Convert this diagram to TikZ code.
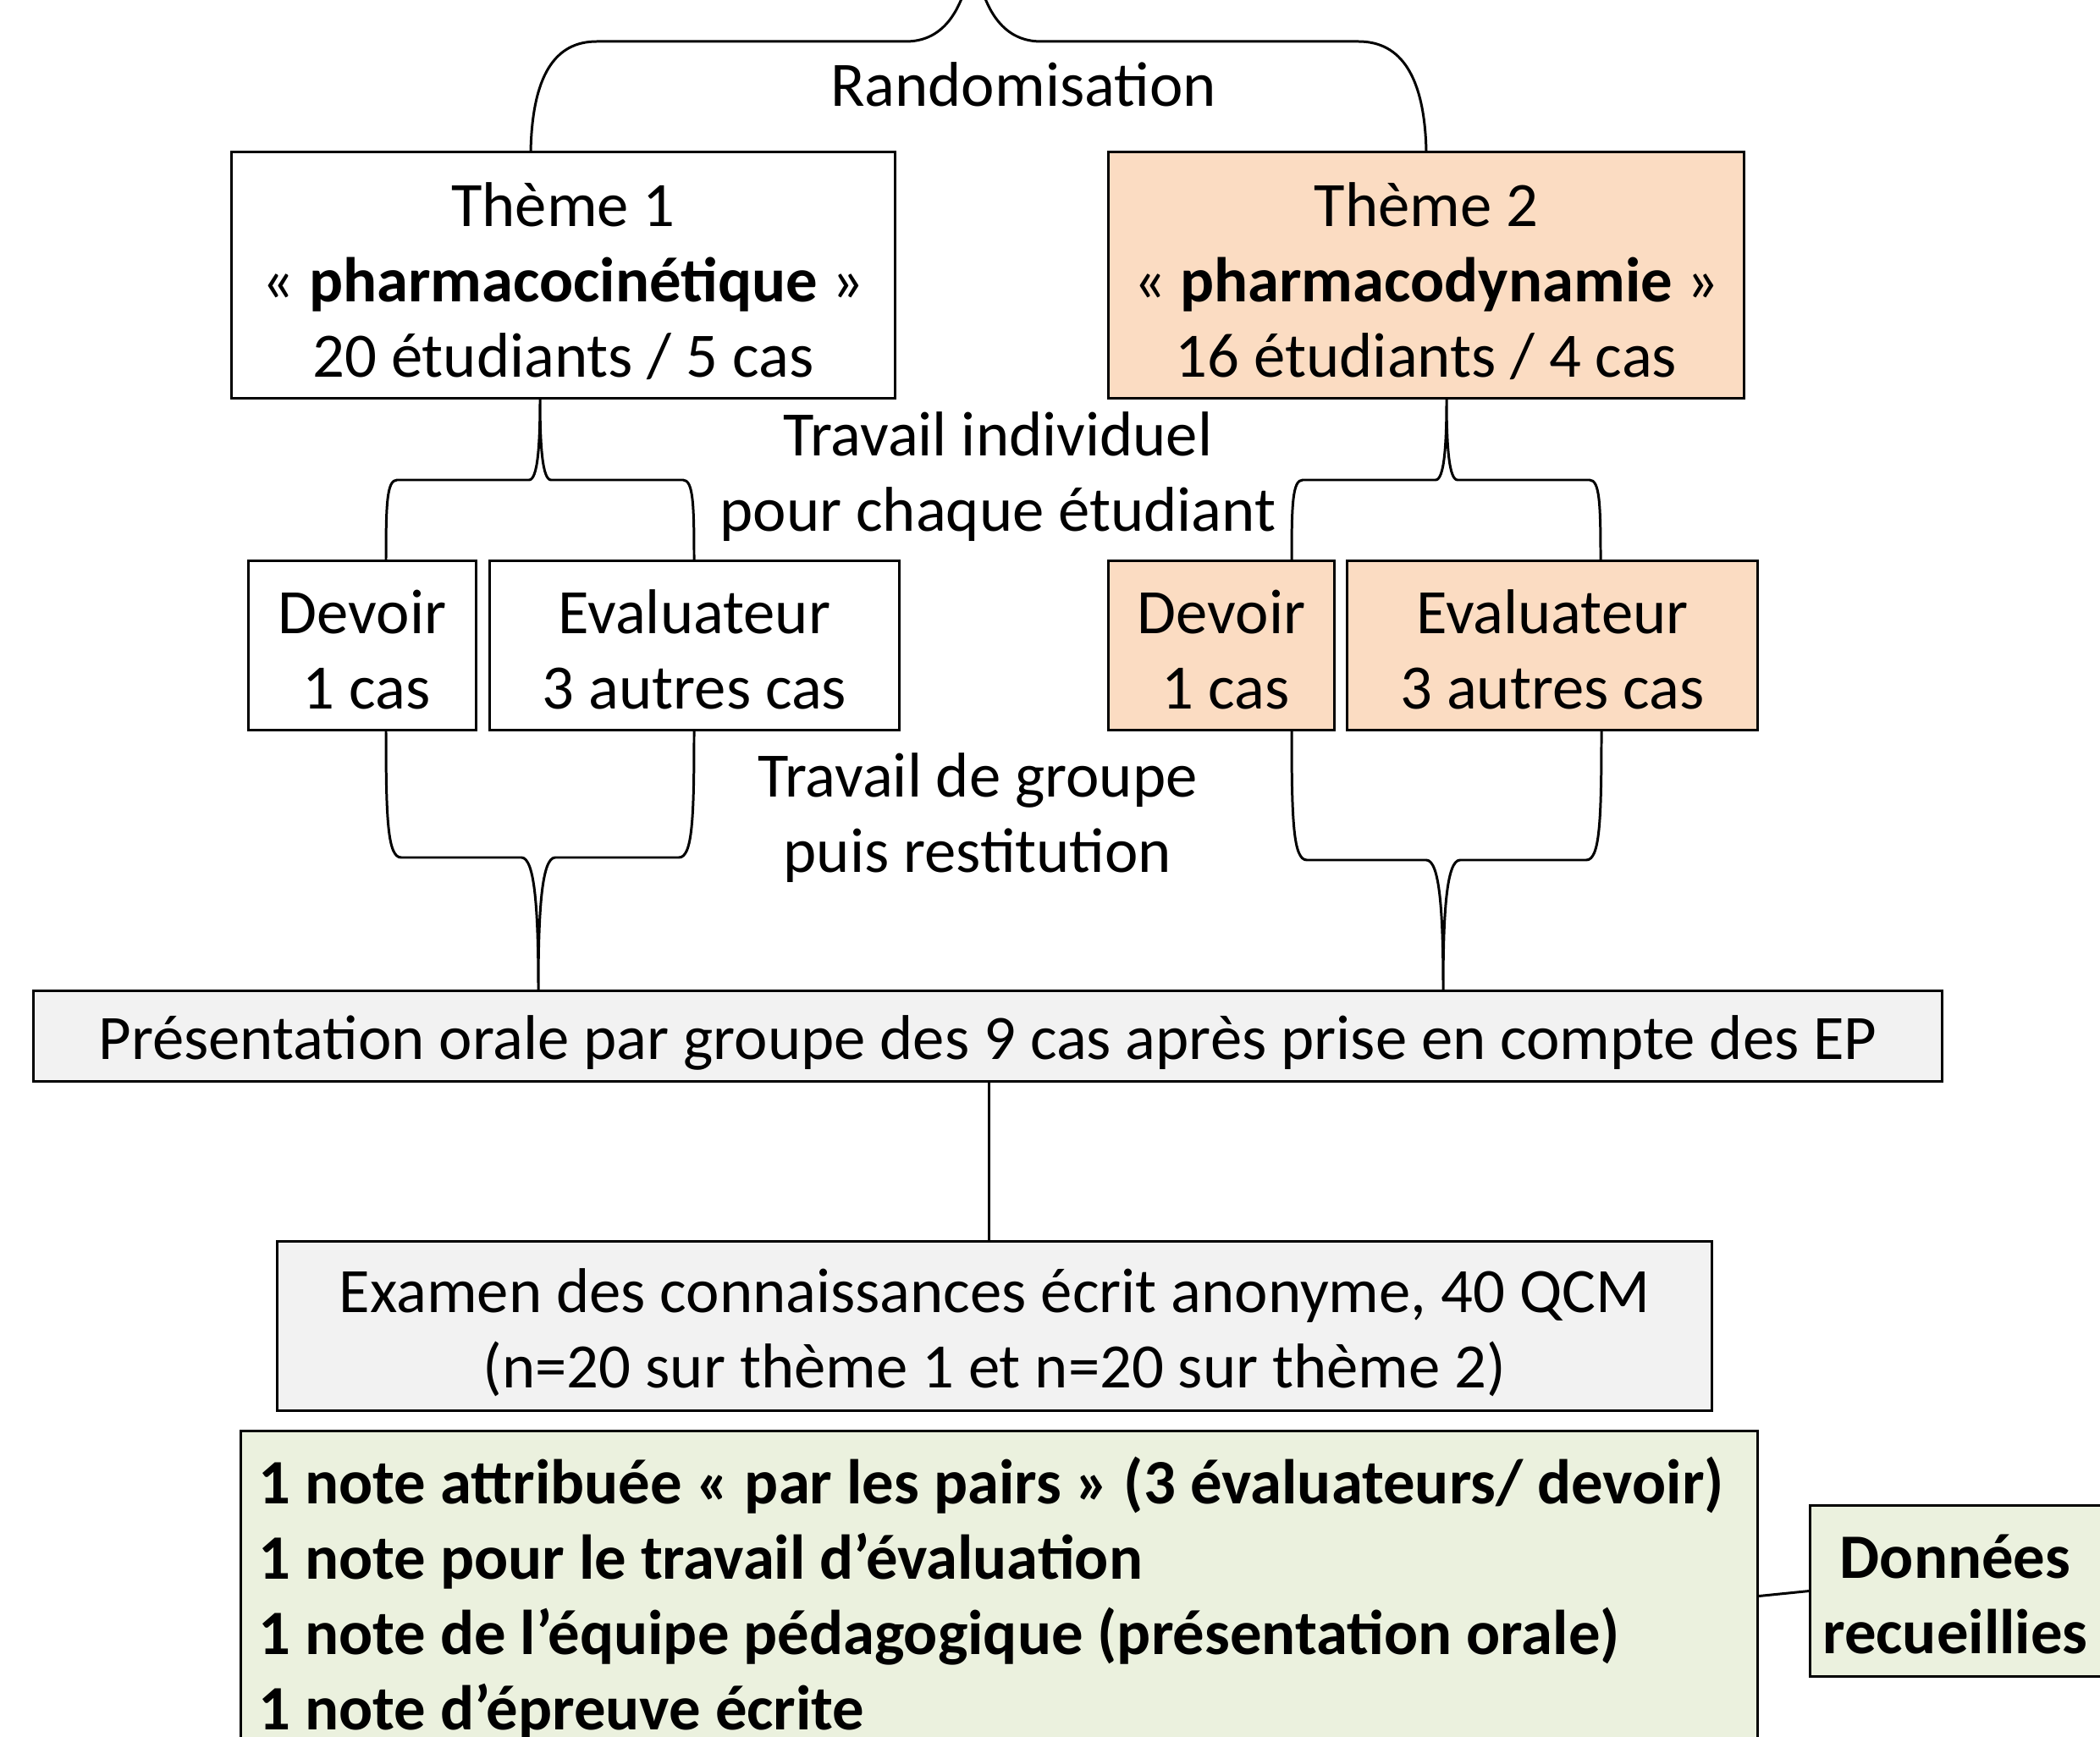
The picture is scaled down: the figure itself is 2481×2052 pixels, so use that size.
\documentclass[tikz,border=0pt]{standalone}
\usepackage{fontspec}
\setmainfont{Carlito}
\usetikzlibrary{calc}
\definecolor{peach}{HTML}{FBDCC2}
\definecolor{lgray}{HTML}{F2F2F2}
\definecolor{lgreen}{HTML}{EBF1DE}
\newcommand\txtsz{\fontsize{21.25pt}{25.3pt}\selectfont}
\begin{document}
\begin{tikzpicture}[x=0.01cm,y=-0.01cm,
 box/.style={draw, line width=0.85pt, inner sep=0pt},
 lbl/.style={inner sep=0pt, align=center, font=\txtsz},
 br/.style={line width=0.85pt, line join=round}]
\useasboundingbox (0,0) rectangle (2481,2052);
\begin{scope}
\clip (0,0) rectangle (2481,2052);
\fill[white] (0,0) rectangle (2481,2052);

% boxes
\node[box, minimum width=7.83cm, minimum height=2.90cm] (th1) at (665.5,325) {};
\node[box, fill=peach, minimum width=7.50cm, minimum height=2.90cm] (th2) at (1685,325) {};
\node[box, minimum width=2.68cm, minimum height=1.99cm] (dev1) at (428,762.5) {};
\node[box, minimum width=4.83cm, minimum height=1.99cm] (ev1) at (820.5,762.5) {};
\node[box, fill=peach, minimum width=2.66cm, minimum height=1.99cm] (dev2) at (1443,762.5) {};
\node[box, fill=peach, minimum width=4.84cm, minimum height=1.99cm] (ev2) at (1834,762.5) {};
\node[box, fill=lgray, minimum width=22.54cm, minimum height=1.06cm] (pres) at (1167,1224) {};
\node[box, fill=lgray, minimum width=16.94cm, minimum height=1.99cm] (exam) at (1175,1566.5) {};
\node[box, fill=lgreen, minimum width=17.91cm, minimum height=3.89cm] (notes) at (1180.5,1885.5) {};
\node[box, fill=lgreen, minimum width=3.50cm, minimum height=2.01cm] (don) at (2314,1879.5) {};

% box texts
\node[lbl] (th1t) at ($(th1)+(0,7)$) {Thème 1\\« \textbf{pharmacocinétique} »\\20 étudiants / 5 cas};
\node[lbl] (th2t) at ($(th2)+(0,7)$) {Thème 2\\« \textbf{pharmacodynamie} »\\16 étudiants / 4 cas};
\node[lbl] (dev1t) at ($(dev1)+(0,5)$) {Devoir\\\hspace*{0.1cm}1 cas};
\node[lbl] (ev1t) at ($(ev1)+(0,5)$) {Evaluateur\\3 autres cas};
\node[lbl] (dev2t) at ($(dev2)+(0,5)$) {Devoir\\\hspace*{0.1cm}1 cas};
\node[lbl] (ev2t) at ($(ev2)+(0,5)$) {Evaluateur\\3 autres cas};
\node[lbl] (prest) at ($(pres)+(0,8)$) {Présentation orale par groupe des 9 cas après prise en compte des EP};
\node[lbl] (examt) at ($(exam)+(0,8)$) {Examen des connaissances écrit anonyme, 40 QCM\\(n=20 sur thème 1 et n=20 sur thème 2)};
\node[lbl, align=left, anchor=west, font=\txtsz\bfseries] (notest) at (305,1888) {1 note attribuée « par les pairs » (3 évaluateurs/ devoir)\\1 note pour le travail d’évaluation\\1 note de l’équipe pédagogique (présentation orale)\\1 note d’épreuve écrite};
\node[lbl, font=\txtsz\bfseries] (dont) at ($(don)+(-4,4)$) {Données\\recueillies};

% free labels
\node[lbl] (rand) at (1209,100) {Randomisation};
\node[lbl] (ind) at (1179,563) {Travail individuel\\pour chaque étudiant};
\node[lbl] (grp) at (1155,966) {Travail de groupe\\puis restitution};

% connectors
\draw[br] (pres.south -| 1168,0) -- (exam.north -| 1168,0);
\draw[br] (notes.east) -- (don.west);

% top brace
\coordinate (b0l) at (th1.north -| 627,0);
\coordinate (b0r) at (th2.north -| 1685,0);
\coordinate (b0t) at (1150,-60);
\draw[br] (b0l) .. controls (629,90) and (655,49) .. (705,49) -- (1070,49) .. controls (1110,49) and (1140,20) .. (b0t) .. controls (1160,20) and (1190,49) .. (1230,49) -- (1605,49) .. controls (1655,49) and (1683,90) .. (b0r);

% brace under theme 1
\coordinate (b1t) at (th1.south -| 638,0);
\coordinate (b1l) at (dev1.north -| 456,0);
\coordinate (b1r) at (ev1.north -| 820,0);
\draw[br] (b1l) .. controls (456,596) and (457,567) .. (469,567) -- (625,567) .. controls (635,567) and (638,528) .. (b1t) .. controls (638,528) and (641,567) .. (651,567) -- (807,567) .. controls (819,567) and (820,596) .. (b1r);

% brace under theme 2
\coordinate (b2t) at (th2.south -| 1709,0);
\coordinate (b2l) at (dev2.north -| 1526,0);
\coordinate (b2r) at (ev2.north -| 1891,0);
\draw[br] (b2l) .. controls (1526,596) and (1527,567) .. (1539,567) -- (1696,567) .. controls (1706,567) and (1709,528) .. (b2t) .. controls (1709,528) and (1712,567) .. (1722,567) -- (1878,567) .. controls (1890,567) and (1891,596) .. (b2r);

% brace above presentation, left
\coordinate (b3l) at (dev1.south -| 456,0);
\coordinate (b3r) at (ev1.south -| 820,0);
\coordinate (b3t) at (pres.north -| 636,0);
\draw[br] (b3l) .. controls (456,968) and (458,1013) .. (474,1013) -- (616,1013) .. controls (632,1013) and (636,1076) .. (b3t) .. controls (636,1076) and (640,1013) .. (656,1013) -- (802,1013) .. controls (818,1013) and (820,968) .. (b3r);

% brace above presentation, right
\coordinate (b4l) at (dev2.south -| 1526,0);
\coordinate (b4r) at (ev2.south -| 1892,0);
\coordinate (b4t) at (pres.north -| 1705,0);
\draw[br] (b4l) .. controls (1526,971) and (1528,1016) .. (1544,1016) -- (1685,1016) .. controls (1701,1016) and (1705,1078) .. (b4t) .. controls (1705,1078) and (1709,1016) .. (1725,1016) -- (1874,1016) .. controls (1890,1016) and (1892,971) .. (b4r);
\end{scope}
\end{tikzpicture}
\end{document}
